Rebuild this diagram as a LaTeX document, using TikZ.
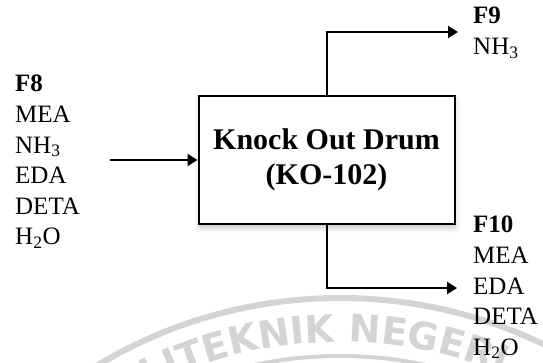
\documentclass[tikz,border=0pt]{standalone}
\usepackage{fontspec}
\setmainfont{Liberation Serif}
\newfontfamily\wmfont{DejaVu Sans}
\usetikzlibrary{arrows.meta, positioning, shadows.blur, decorations.text}
\definecolor{wmgray}{RGB}{212,212,212}

\begin{document}
\begin{tikzpicture}[x=1pt, y=1pt,
    block/.style={draw=black, line width=2pt, fill=white,
      minimum width=256pt, minimum height=128pt, align=center,
      font=\fontsize{30}{35.5}\selectfont\bfseries,
      blur shadow={shadow xshift=1pt, shadow yshift=-4pt,
        shadow opacity=22, shadow blur radius=5pt}},
    stream/.style={align=left, anchor=north west, inner sep=0pt,
      font=\fontsize{25}{30.6}\selectfont},
    flow/.style={line width=2pt, -{Triangle[length=10pt, width=12pt]}}]
  \useasboundingbox (0,0) rectangle (543,362);

  % faint logo in the background
  \begin{scope}
    \clip (0,0) rectangle (543,362);
    \draw[wmgray, line width=6pt] (340,-406) circle[radius=470];
    \draw[wmgray, line width=4pt] (340,-406) circle[radius=412];
    \path[decorate, decoration={text along path, text align=left,
        text color=wmgray,
        text={|\wmfont\bfseries\fontsize{38}{38}\selectfont|POLITEKNIK NEGERI}}]
      (340,-406) ++(125:426) arc[start angle=125, end angle=40, radius=426];
  \end{scope}

  % knock out drum
  \node[block] (ko) at (326.5,202) {Knock Out Drum\\(KO-102)};

  \coordinate (f8in) at (110,202);
  \coordinate (f9out) at (458,330);
  \coordinate (f10out) at (457,74);

  \draw[flow] (f8in) -- (ko.west);
  \draw[flow] (ko.north) |- (f9out);
  \draw[flow] (ko.south) |- (f10out);

  % stream compositions
  \node[stream] (f8) at (15,287)
    {\textbf{F8}\\MEA\\NH\textsubscript{3}\\EDA\\DETA\\H\textsubscript{2}O};
  \node[stream] (f9) at (473,355) {\textbf{F9}\\NH\textsubscript{3}};
  \node[stream] (f10) at (473,146)
    {\textbf{F10}\\MEA\\EDA\\DETA\\H\textsubscript{2}O};
\end{tikzpicture}
\end{document}
